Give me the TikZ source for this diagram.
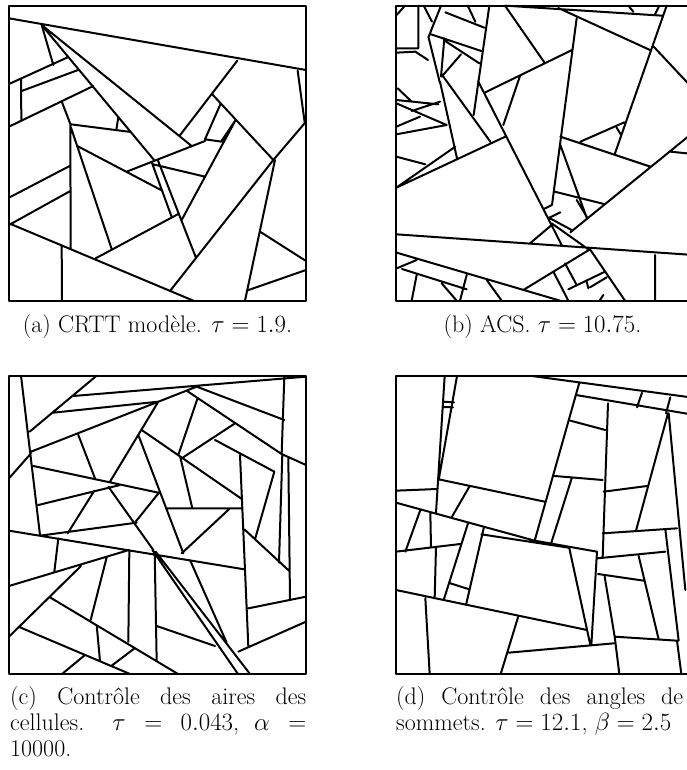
\documentclass[tikz,border=0pt]{standalone}
\begin{document}
\begin{tikzpicture}[x=1pt,y=-1pt,
  seg/.style={line width=2pt, line cap=round, line join=round},
  capt/.style={inner sep=0pt, anchor=base west, font=\fontsize{24}{28}\selectfont},
  captc/.style={inner sep=0pt, anchor=base, font=\fontsize{24}{28}\selectfont}]
\useasboundingbox (0,0) rectangle (686,770);
% ---------------- panel (a)
\begin{scope}[shift={(5,5)},scale=1/3]
\draw[seg] (12,3) rectangle (903,887);
\draw[seg]
 (12,40)--(903,195)
 (110,60)--(145,180)
 (110,60)--(560,423)
 (110,60)--(448,466)
 (12,237)--(190,156)
 (50,258)--(222,194)
 (48,221)--(49,343)
 (12,365)--(265,243)
 (170,289)--(198,362)
 (198,358)--(378,381)
 (340,336)--(334,375)
 (196,360)--(197,732)
 (198,368)--(320,732)
 (215,422)--(468,555)
 (365,500)--(600,408)
 (444,478)--(600,515)
 (440,471)--(500,636)
 (458,464)--(572,756)
 (524,392)--(697,167)
 (620,266)--(805,465)
 (647,296)--(600,403)--(650,410)
 (692,345)--(648,410)
 (692,345)--(530,645)
 (272,760)--(518,628)
 (12,655)--(565,887)
 (12,578)--(196,482)
 (12,660)--(196,558)
 (170,721)--(171,887)
 (805,465)--(495,858)
 (810,465)--(720,887)
 (805,465)--(903,350)
 (878,197)--(899,352)
 (765,680)--(903,768)
 (725,857)--(903,795);
\end{scope}
% ---------------- panel (b)
\begin{scope}[shift={(392,5)},scale=1/3]
\draw[seg] (13,2) rectangle (904,887);
\draw[seg]
 (14,30)--(39,2)
 (79,2)--(79,130)
 (13,130)--(79,130)
 (13,143)--(70,140)--(108,165)
 (95,2)--(120,50)
 (147,2)--(110,95)
 (160,22)--(277,68)
 (227,2)--(250,50)
 (292,2)--(245,330)
 (339,2)--(459,175)
 (117,88)--(268,138)
 (155,105)--(262,175)
 (109,95)--(144,235)
 (157,100)--(147,215)
 (149,215)--(207,148)
 (144,230)--(195,460)
 (154,215)--(295,410)
 (540,135)--(280,262)
 (385,210)--(334,360)
 (258,228)--(510,722)
 (13,548)--(340,395)
 (13,548)--(190,425)
 (17,250)--(59,290)
 (13,285)--(139,298)
 (13,295)--(164,360)
 (59,318)--(144,290)
 (13,365)--(84,335)
 (13,388)--(164,360)
 (13,455)--(100,478)
 (340,2)--(810,32)
 (499,9)--(774,135)
 (824,2)--(669,445)
 (554,40)--(480,600)
 (785,125)--(904,252)
 (505,395)--(775,485)
 (565,410)--(697,352)
 (674,368)--(686,388)
 (505,420)--(585,641)
 (488,560)--(640,598)
 (535,682)--(904,382)
 (835,440)--(904,447)
 (13,688)--(904,750)
 (14,743)--(504,887)
 (14,790)--(74,765)
 (30,792)--(224,853)
 (74,810)--(59,887)
 (224,810)--(204,887)
 (149,835)--(194,887)
 (284,825)--(329,887)
 (394,855)--(594,733)
 (414,715)--(479,660)
 (479,655)--(589,733)
 (594,733)--(699,887)
 (484,800)--(529,887)
 (519,775)--(554,840)
 (529,853)--(639,800)
 (594,847)--(644,817)
 (584,830)--(589,850)
 (624,885)--(634,870)
 (789,750)--(789,887)
 (554,585)--(584,635)
 (474,640)--(539,675)
 (455,612)--(480,600)
 (468,640)--(505,622)
 (709,2)--(724,20)
 (789,28)--(802,2);
\end{scope}
% ---------------- panel (c)
\begin{scope}[shift={(5,370)},scale=1/3]
\draw[seg] (12,17) rectangle (903,912);
\draw[seg]
 (48,17)--(105,495)
 (74,185)--(275,17)
 (205,78)--(903,20)
 (145,128)--(460,95)
 (78,245)--(575,50)
 (460,95)--(315,335)
 (575,50)--(838,150)
 (545,62)--(830,252)
 (578,84)--(520,255)
 (690,160)--(530,265)
 (630,210)--(808,305)
 (410,180)--(712,388)
 (400,195)--(535,550)
 (220,195)--(270,325)
 (85,288)--(460,368)
 (100,405)--(345,345)
 (310,350)--(445,540)
 (392,455)--(462,368)
 (525,258)--(562,415)
 (485,415)--(712,415)
 (675,415)--(530,550)
 (705,255)--(730,830)
 (12,482)--(718,598)
 (105,497)--(395,458)
 (188,490)--(268,362)
 (160,505)--(148,605)
 (12,648)--(372,540)
 (373,540)--(370,815)
 (12,800)--(228,588)
 (305,562)--(257,750)
 (135,682)--(519,912)
 (45,772)--(375,912)
 (275,765)--(285,873)
 (320,887)--(390,834)
 (171,912)--(240,855)
 (442,540)--(699,912)
 (452,545)--(735,912)
 (555,570)--(665,818)
 (718,478)--(855,605)
 (750,508)--(808,305)
 (832,252)--(822,578)
 (850,265)--(855,690)
 (730,715)--(903,680)
 (700,845)--(903,755)
 (455,768)--(630,828)
 (449,545)--(455,872)
 (838,20)--(830,252)
 (830,252)--(903,285)
 (12,325)--(78,250);
\end{scope}
% ---------------- panel (d)
\begin{scope}[shift={(392,370)},scale=1/3]
\draw[seg] (12,18) rectangle (903,912);
\draw[seg]
 (420,18)--(903,83)
 (552,75)--(903,134)
 (562,38)--(428,512)
 (158,18)--(132,428)
 (195,18)--(140,330)
 (154,95)--(186,97)
 (153,111)--(183,112)
 (140,328)--(458,395)
 (12,362)--(135,357)
 (12,398)--(428,512)--(615,545)
 (12,545)--(205,522)
 (85,420)--(40,545)
 (115,430)--(117,532)
 (132,530)--(128,685)
 (228,460)--(155,690)
 (275,475)--(222,705)
 (175,640)--(232,658)
 (268,493)--(530,533)
 (12,660)--(585,780)
 (100,685)--(113,912)
 (378,742)--(326,912)
 (350,848)--(665,820)
 (668,800)--(682,912)
 (668,800)--(855,812)
 (532,535)--(595,825)
 (615,545)--(598,825)
 (648,100)--(632,562)
 (615,565)--(820,545)
 (632,490)--(855,475)
 (635,365)--(765,348)
 (828,130)--(732,482)
 (830,130)--(880,660)
 (820,478)--(860,812)
 (855,812)--(868,912)
 (740,558)--(800,808)
 (618,612)--(755,632)
 (638,620)--(668,800)
 (535,152)--(640,180)
 (488,318)--(632,330)
 (540,322)--(478,518)
 (750,68)--(735,112)
 (835,82)--(822,130)
 (180,440)--(232,350);
\end{scope}
% ---------------- captions
\node[captc] (capa) at (157.5,332) {(a) CRTT modèle. $\tau = 1.9$.};
\node[captc] (capb) at (542.5,332) {(b) ACS. $\tau = 10.75$.};
\node[capt] (capc1) at (10,704.5) {\makebox[296pt][s]{(c) Contrôle des aires des}};
\node[capt] (capc2) at (10,730.5) {\makebox[296pt][s]{cellules. $\tau = 0.043$, $\alpha =$}};
\node[capt] (capc3) at (10,756) {10000.};
\node[capt] (capd1) at (396,704.5) {\makebox[287pt][s]{(d) Contrôle des angles de}};
\node[capt] (capd2) at (396,730.5) {sommets. $\tau = 12.1$, $\beta = 2.5$};
\end{tikzpicture}
\end{document}
